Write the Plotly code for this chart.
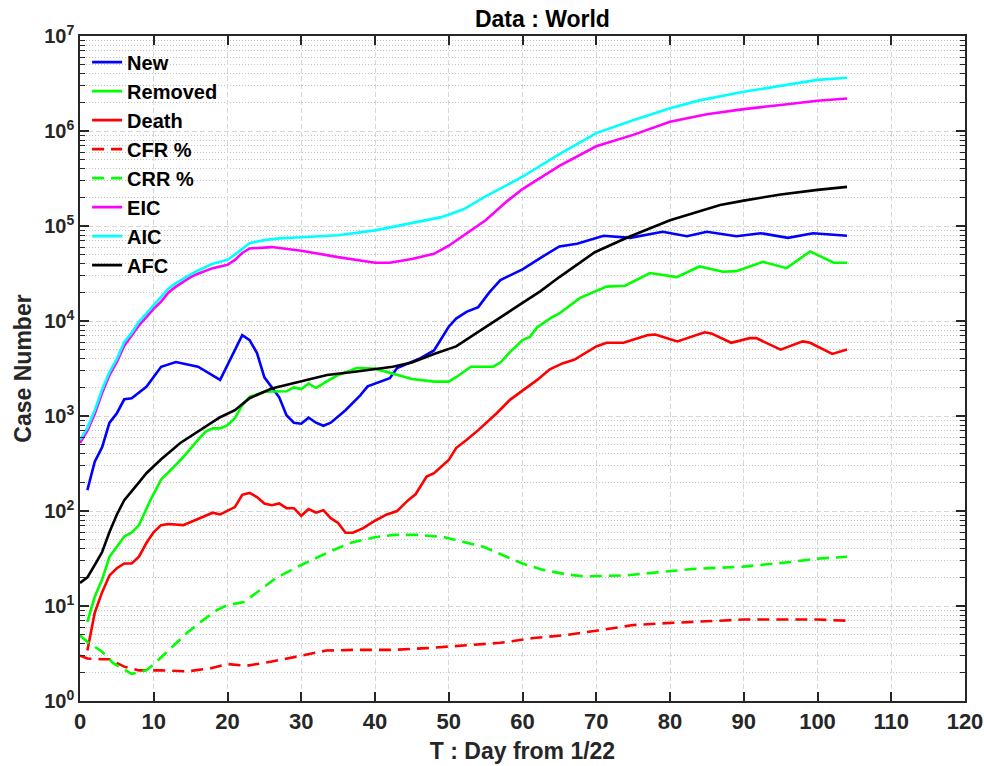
import plotly.graph_objects as go

# ---------------- data ----------------
new_days = [1, 2, 3, 4, 5, 6, 7, 8, 9, 11, 13, 16, 18, 19, 22, 23, 24, 25, 27, 28, 29, 30, 31, 32, 33, 34,
            36, 38, 39, 42, 43, 46, 48, 50, 51, 52.4, 54, 55.5, 57, 60, 62.4, 65, 67.4, 71, 74.6, 79, 82.3, 85,
            89, 92.3, 96, 99.4, 104]
new_vals = [166, 330, 470, 850, 1070, 1500, 1540, 1750, 2030, 3300, 3700, 3300, 2700, 2400, 7100, 6300, 4600,
            2550, 1580, 1020, 850, 830, 960, 850, 790, 850, 1150, 1650, 2050, 2500, 3200, 4000, 4900, 8700,
            10600, 12500, 14000, 20000, 27000, 35000, 46000, 61000, 65000, 79000, 75000, 87000, 78000, 87000,
            78000, 84000, 75000, 84000, 79000]

removed_days = [1, 2, 3, 4, 5, 6, 7, 8, 9.5, 11, 12.6, 14, 16, 17, 18, 19, 20, 21, 22, 23, 25, 28, 29, 30,
                31, 32, 33.4, 35, 36.6, 37.5, 40, 42.5, 45, 48, 50, 51, 53, 56, 57, 58.3, 60, 61, 62, 64, 65,
                67.8, 71.4, 73.9, 77.3, 80.9, 84, 87.2, 89, 92.6, 95.8, 99, 102.2, 104]
removed_vals = [6.8, 12.5, 19, 33, 42, 54, 59, 71, 128, 215, 285, 370, 560, 680, 740, 740, 800, 950, 1300,
                1590, 1800, 1820, 2000, 1920, 2200, 1970, 2300, 2700, 3000, 3200, 3150, 2800, 2450, 2300, 2300,
                2560, 3300, 3300, 3650, 4700, 6300, 6800, 8600, 11000, 12000, 17500, 23000, 23500, 32000, 29000,
                37500, 33000, 33500, 42000, 36000, 54000, 41000, 41000]

death_days = [1, 2, 3, 4, 5, 6, 7, 8, 9, 10, 11, 12, 14, 15.4, 18, 19, 20, 21, 22, 23, 24, 25, 26, 27, 28,
              29, 30, 31, 32, 33, 34, 35, 36, 37, 38.4, 40, 41.6, 43, 44.5, 45.5, 47, 48, 50, 51, 52.4, 54,
              56.5, 58.3, 60, 62, 63.7, 65.5, 67, 70, 71.4, 73.7, 77, 78, 81, 82.3, 84.7, 85.6, 88.3, 90.8,
              91.7, 95, 98, 99, 102, 104]
death_vals = [3.4, 8.5, 14, 21, 25, 28, 28, 33, 46, 60, 71, 73, 71, 79, 96, 92, 100, 110, 148, 155, 140, 120,
              115, 120, 107, 107, 89, 105, 96, 102, 84, 75, 59, 59, 66, 79, 92, 100, 130, 150, 230, 250, 345,
              460, 560, 710, 1070, 1480, 1850, 2400, 3100, 3600, 3900, 5400, 5900, 5900, 7100, 7200, 6100,
              6600, 7600, 7400, 5900, 6600, 6600, 5000, 6100, 5900, 4500, 5000]

cfr_days = [0, 1, 3, 4, 6, 8, 11, 14.5, 17.6, 20, 22.6, 26, 30, 33.4, 37, 42.5, 47, 51.5, 57, 61.5, 66, 70,
            75, 79.5, 84, 90, 95, 100, 104]
cfr_vals = [3.0, 2.8, 2.75, 2.75, 2.3, 2.1, 2.1, 2.05, 2.2, 2.45, 2.35, 2.6, 3.0, 3.4, 3.45, 3.45, 3.6, 3.8,
            4.1, 4.6, 4.95, 5.5, 6.3, 6.6, 6.9, 7.2, 7.2, 7.2, 7.0]

crr_days = [0, 1, 3, 4.5, 7, 9, 10.4, 12.2, 14.5, 16.7, 18.6, 20, 22.2, 24.4, 26.7, 30, 33.4, 36.6, 40, 42.5,
            46, 49.4, 52.4, 54.7, 60, 62.8, 66, 68.3, 74, 79.5, 83, 90, 96.3, 100, 104]
crr_vals = [4.9, 4.2, 3.3, 2.5, 1.93, 2.1, 2.6, 3.5, 5.2, 7.1, 9.1, 10.2, 11, 14.7, 20, 27, 36, 46, 53, 56,
            56, 53, 46, 42, 28, 24, 21.5, 20.5, 21, 23, 24.5, 26, 29, 31.5, 33]

eic_days = [0, 1, 2, 3, 4, 5, 6, 7, 8, 9, 10, 11, 12, 13, 14, 15, 16, 17, 18, 19, 20, 21, 22, 23, 26, 30, 35,
            40, 42, 45, 48, 50, 52, 55, 58, 60, 65, 70, 75, 80, 85, 90, 95, 100, 104]
eic_vals = [520, 700, 1050, 1750, 2700, 3700, 5500, 7000, 9000, 11000, 13500, 16000, 20000, 23000, 26000,
            29000, 31500, 34000, 36000, 37500, 39000, 44000, 52000, 58000, 60000, 55000, 47000, 41000, 41000,
            45000, 51000, 62000, 80000, 115000, 185000, 245000, 430000, 690000, 910000, 1250000, 1500000,
            1700000, 1880000, 2080000, 2200000]

aic_days = [0, 1, 2, 3, 4, 5, 6, 7, 8, 9, 10, 11, 12, 13, 14, 15, 16, 17, 18, 19, 20, 21, 22, 23, 25, 27, 30,
            35, 40, 43, 46, 49, 52, 55, 60, 65, 70, 75, 80, 84, 90, 95, 100, 104]
aic_vals = [560, 750, 1150, 1900, 2900, 4000, 6000, 7500, 9800, 12000, 14500, 17500, 22000, 25000, 28000,
            31000, 34000, 37000, 40000, 42000, 44000, 50000, 58000, 66000, 71000, 74000, 76000, 80000, 90000,
            100000, 110000, 124000, 150000, 205000, 330000, 570000, 950000, 1300000, 1740000, 2100000,
            2590000, 3000000, 3450000, 3640000]

afc_days = [0, 1, 2, 3, 4, 5, 6, 7, 8, 9, 11, 13.6, 16.3, 19, 21, 23, 26, 30, 33.5, 37, 42.4, 45, 48, 51, 56,
            60, 62.4, 65, 69.8, 74.3, 80, 86.8, 90, 95, 100, 104]
afc_vals = [17.5, 20, 27, 37, 60, 92, 130, 160, 200, 250, 350, 520, 710, 970, 1150, 1540, 1950, 2330, 2700,
            2900, 3300, 3650, 4500, 5400, 9600, 15500, 20500, 29000, 53000, 76000, 115000, 166000, 185000,
            215000, 240000, 258000]

series_names = ["New", "Removed", "Death", "CFR %", "CRR %", "EIC", "AIC", "AFC"]
x_ticks = list(range(0, 121, 10))
y_exponents = list(range(0, 8))

# ---------------- figure ----------------
FONT = "Liberation Sans"
AXC = "#262626"

series = [
    (new_days, new_vals, "#0000ff", "solid"),
    (removed_days, removed_vals, "#00ff00", "solid"),
    (death_days, death_vals, "#ff0000", "solid"),
    (cfr_days, cfr_vals, "#ff0000", "12px,7px"),
    (crr_days, crr_vals, "#00ff00", "12px,7px"),
    (eic_days, eic_vals, "#ff00ff", "solid"),
    (aic_days, aic_vals, "#00ffff", "solid"),
    (afc_days, afc_vals, "#000000", "solid"),
]

fig = go.Figure()
for name, (xs, ys, col, dash) in zip(series_names, series):
    fig.add_trace(go.Scatter(x=xs, y=ys, mode="lines", name=name,
                             line=dict(color=col, width=2.6, dash=dash)))

minor_vals = [m * 10 ** e for e in range(0, 7) for m in range(2, 10)]

fig.update_layout(
    width=984, height=766,
    margin=dict(l=80, r=19, t=36, b=65),
    paper_bgcolor="white", plot_bgcolor="white",
    font=dict(family=FONT, size=20, color=AXC, weight="bold"),
    title=dict(text="Data : World", x=0.5225, xref="paper", xanchor="center",
               y=1 - 19 / 766, yanchor="middle",
               font=dict(family=FONT, size=23, color="#000000", weight="bold")),
    showlegend=True,
    legend=dict(x=0.008, y=0.99, xanchor="left", yanchor="top",
                bgcolor="rgba(0,0,0,0)", borderwidth=0,
                font=dict(family=FONT, size=20, color="#000000", weight="bold"),
                itemwidth=30, tracegroupgap=0),
)

fig.update_xaxes(
    range=[0, 120], tickvals=x_ticks, ticktext=[str(v) for v in x_ticks],
    automargin=False,
    ticks="inside", ticklen=9, tickwidth=1.5, tickcolor=AXC,
    showline=True, linecolor=AXC, linewidth=1.5, mirror="ticks",
    showgrid=True, gridcolor="#d6d6d6", gridwidth=1, griddash="5px,3px",
    zeroline=False,
    tickfont=dict(family=FONT, size=22, color=AXC, weight="bold"),
    title=dict(text="T : Day from 1/22", standoff=10,
               font=dict(family=FONT, size=23, color=AXC, weight="bold")),
)

fig.update_yaxes(
    type="log", range=[0, 7],
    tickvals=[10 ** e for e in y_exponents],
    ticktext=["10<sup>%d</sup>" % e for e in y_exponents],
    automargin=False,
    ticks="inside", ticklen=9, tickwidth=1.5, tickcolor=AXC,
    showline=True, linecolor=AXC, linewidth=1.5, mirror="ticks",
    showgrid=True, gridcolor="#d6d6d6", gridwidth=1, griddash="5px,3px",
    zeroline=False,
    tickfont=dict(family=FONT, size=20, color=AXC, weight="bold"),
    minor=dict(tickmode="array", tickvals=minor_vals, ticks="inside", ticklen=5,
               tickcolor=AXC, tickwidth=1, showgrid=True, gridcolor="#c2c2c2",
               gridwidth=1, griddash="1px,2px"),
    title=dict(text="Case Number", standoff=6,
               font=dict(family=FONT, size=23, color=AXC, weight="bold")),
)

fig.write_html("out.html")
